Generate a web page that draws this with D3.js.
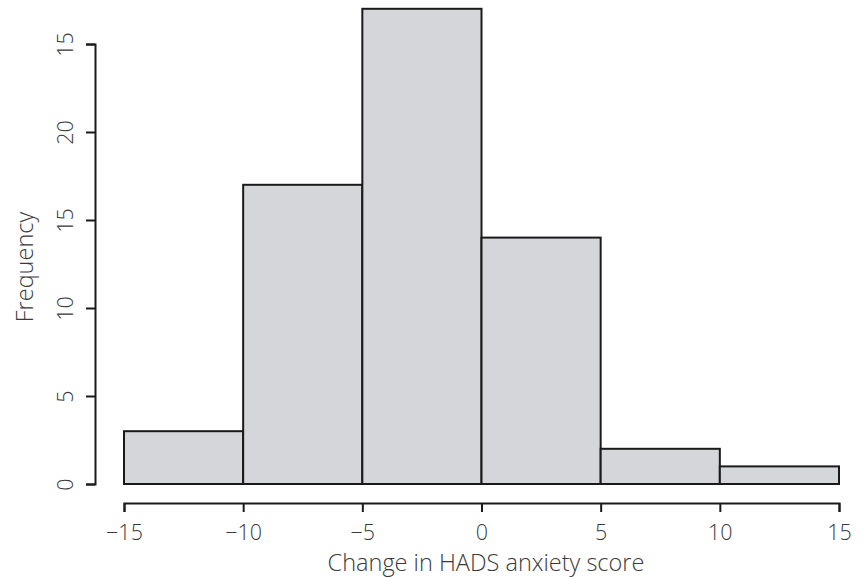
<!DOCTYPE html>
<html><head><meta charset="utf-8">
<script src="https://cdn.jsdelivr.net/npm/d3@7"></script>
<style>
body{margin:0;background:#fff;}
text{font-family:"Open Sans","Liberation Sans",sans-serif;font-weight:300;fill:#3a3a3a;}
</style></head>
<body><svg id="c" width="865" height="578"></svg>
<script>
const binEdges = [-15, -10, -5, 0, 5, 10, 15];
const counts = [3, 17, 27, 14, 2, 1];
const xTicks = [-15, -10, -5, 0, 5, 10, 15];
const yTicks = [0, 5, 10, 15, 20, 25];
const yTickLabels = ["0", "5", "10", "15", "20", "15"];
const xTitle = "Change in HADS anxiety score";
const yTitle = "Frequency";

const svg = d3.select("#c");
const x = d3.scaleLinear().domain([-15, 15]).range([124, 839]);
const y = d3.scaleLinear().domain([0, 25]).range([484, 44]);

const bins = counts.map((c, i) => ({x0: binEdges[i], x1: binEdges[i+1], c}));
svg.append("g").selectAll("rect").data(bins).join("rect")
  .attr("x", d => x(d.x0)).attr("width", d => x(d.x1) - x(d.x0))
  .attr("y", d => y(d.c)).attr("height", d => y(0) - y(d.c))
  .attr("fill", "#d5d6d9").attr("stroke", "#1a1a1a").attr("stroke-width", 2);

const fmt = v => v < 0 ? "\u2212" + Math.abs(v) : String(v);
const font = "'Open Sans','Liberation Sans',sans-serif";
const xa = svg.append("g").attr("transform", "translate(0,503)")
  .call(d3.axisBottom(x).tickValues(xTicks).tickFormat(fmt).tickSize(9).tickPadding(13));
xa.select(".domain").attr("stroke", "#1a1a1a").attr("stroke-width", 2);
xa.selectAll(".tick line").attr("stroke", "#1a1a1a").attr("stroke-width", 2);
xa.selectAll(".tick text").attr("font-size", 21.5).attr("fill", "#3a3a3a").attr("font-family", font).attr("font-weight", 300);

const ya = svg.append("g").attr("transform", "translate(95,0)")
  .call(d3.axisLeft(y).tickValues(yTicks).tickFormat((d, i) => yTickLabels[i]).tickSize(9).tickPadding(8));
ya.select(".domain").attr("stroke", "#1a1a1a").attr("stroke-width", 2);
ya.selectAll(".tick line").attr("stroke", "#1a1a1a").attr("stroke-width", 2);
ya.selectAll(".tick text").attr("font-size", 21.5).attr("fill", "#3a3a3a").attr("font-family", font).attr("font-weight", 300)
  .attr("text-anchor", "middle").attr("dy", null)
  .attr("transform", "rotate(-90)").attr("x", 0).attr("y", -22);

svg.append("text").attr("x", 486).attr("y", 571).attr("text-anchor", "middle")
  .attr("font-size", 23.5).text(xTitle);
svg.append("text").attr("transform", "translate(33,267) rotate(-90)").attr("text-anchor", "middle")
  .attr("font-size", 23.5).text(yTitle);
</script></body></html>
